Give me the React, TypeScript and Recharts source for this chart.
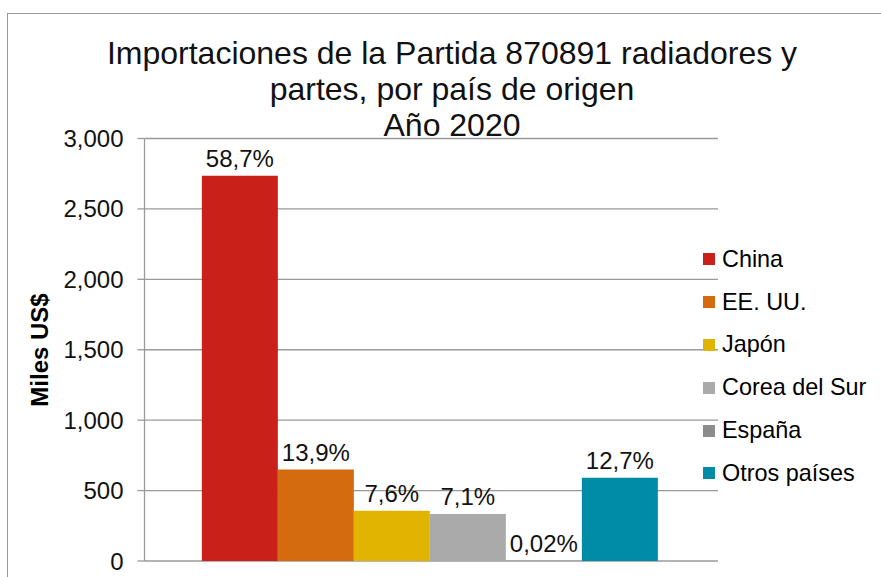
import React from "react";
import { BarChart, Bar, XAxis, YAxis, CartesianGrid, LabelList } from "recharts";

const categories = ["2020"];
const seriesNames = ["China", "EE. UU.", "Japón", "Corea del Sur", "España", "Otros países"];
const seriesKeys = ["china", "eeuu", "japon", "corea", "espana", "otros"];
const seriesValues = [2735, 649, 356, 333, 1, 592];
const seriesLabels = ["58,7%", "13,9%", "7,6%", "7,1%", "0,02%", "12,7%"];
const seriesColors = ["#C9201A", "#D46B0E", "#E0B400", "#AAAAAA", "#8C8C8C", "#008BA6"];
const yTicks = [0, 500, 1000, 1500, 2000, 2500, 3000];
const titleLines = ["Importaciones de la Partida 870891 radiadores y", "partes, por país de origen", "Año 2020"];
const yAxisTitle = "Miles US$";

const data = categories.map((c) => {
  const row: Record<string, string | number> = { category: c };
  seriesKeys.forEach((k, i) => {
    row[k] = seriesValues[i];
  });
  return row;
});

const FONT = "'Liberation Sans', Arial, sans-serif";

const fmtTick = (v: number) => v.toLocaleString("en-US");

export default function App() {
  return (
    <div style={{ position: "absolute", left: 0, top: 0, width: 881, height: 577, background: "#fff", overflow: "hidden" }}>
      <div style={{ position: "absolute", left: 7, top: 13, width: 900, height: 600, border: "1.5px solid #9a9a9a", boxSizing: "border-box" }} />
      <BarChart
        width={881}
        height={577}
        data={data}
        margin={{ top: 138.5, right: 163, bottom: 16, left: 0 }}
        barCategoryGap="10%"
        barGap={0}
      >
        <CartesianGrid vertical={false} stroke="#9a9a9a" strokeWidth={1.3} />
        <XAxis dataKey="category" hide />
        <YAxis
          width={144.5}
          domain={[0, 3000]}
          ticks={yTicks}
          tickFormatter={fmtTick}
          tickSize={7}
          tickMargin={14}
          interval={0}
          stroke="#9a9a9a"
          strokeWidth={1.3}
          tick={{ fill: "#111", fontSize: 24, fontFamily: FONT }}
        />
        {seriesKeys.map((k, i) => (
          <Bar key={k} dataKey={k} name={seriesNames[i]} fill={seriesColors[i]} isAnimationActive={false}>
            <LabelList
              dataKey={k}
              position="top"
              offset={9}
              formatter={() => seriesLabels[i]}
              style={{ fill: "#111", fontSize: 24, fontFamily: FONT }}
            />
          </Bar>
        ))}
      </BarChart>
      <div style={{ position: "absolute", left: 703, top: 238, fontFamily: FONT, fontSize: 23.4, color: "#000" }}>
        {seriesNames.map((n, i) => (
          <div key={n} style={{ height: 42.8, display: "flex", alignItems: "center", whiteSpace: "nowrap" }}>
            <div style={{ width: 12, height: 12, background: seriesColors[i], marginRight: 7 }} />
            <span>{n}</span>
          </div>
        ))}
      </div>
      <svg width={881} height={577} style={{ position: "absolute", left: 0, top: 0, pointerEvents: "none" }}>
        {titleLines.map((t, i) => (
          <text key={i} x={452} y={64 + i * 36} textAnchor="middle" fontFamily={FONT} fontSize={32} fill="#111">
            {t}
          </text>
        ))}
        <text
          x={0}
          y={0}
          transform="translate(48,350) rotate(-90)"
          textAnchor="middle"
          fontFamily={FONT}
          fontSize={24}
          fontWeight="bold"
          fill="#000"
        >
          {yAxisTitle}
        </text>
      </svg>
    </div>
  );
}
